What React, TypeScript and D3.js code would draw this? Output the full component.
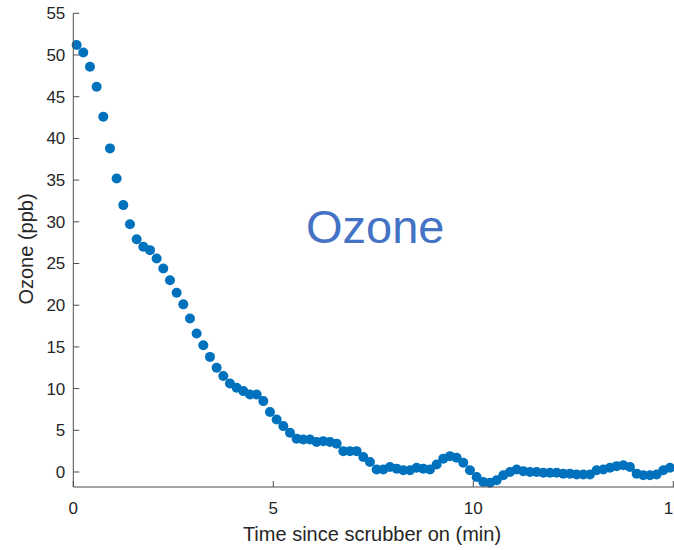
import React from "react";
import * as d3 from "d3";

// Sample times, seconds after the scrubber was switched on
const timeSec = [
  5, 15, 25, 35, 45, 55, 65, 75, 85, 95,
  105, 115, 125, 135, 145, 155, 165, 175, 185, 195,
  205, 215, 225, 235, 245, 255, 265, 275, 285, 295,
  305, 315, 325, 335, 345, 355, 365, 375, 385, 395,
  405, 415, 425, 435, 445, 455, 465, 475, 485, 495,
  505, 515, 525, 535, 545, 555, 565, 575, 585, 595,
  605, 615, 625, 635, 645, 655, 665, 675, 685, 695,
  705, 715, 725, 735, 745, 755, 765, 775, 785, 795,
  805, 815, 825, 835, 845, 855, 865, 875, 885, 895,
];

// Ozone readings (ppb)
const ozonePpb = [
  51.2, 50.3, 48.6, 46.2, 42.6, 38.8, 35.2, 32.0, 29.7, 27.9,
  27.0, 26.6, 25.6, 24.4, 23.0, 21.5, 20.1, 18.4, 16.6, 15.2,
  13.8, 12.5, 11.5, 10.6, 10.1, 9.7, 9.3, 9.3, 8.5, 7.2,
  6.3, 5.5, 4.7, 4.0, 3.9, 3.9, 3.6, 3.7, 3.6, 3.4,
  2.5, 2.5, 2.5, 1.8, 1.2, 0.3, 0.3, 0.6, 0.4, 0.2,
  0.2, 0.5, 0.4, 0.3, 0.9, 1.6, 1.9, 1.7, 1.1, 0.2,
  -0.6, -1.2, -1.3, -1.0, -0.4, 0.0, 0.3, 0.1, 0.0, 0.0,
  -0.1, -0.1, -0.1, -0.2, -0.2, -0.3, -0.3, -0.3, 0.2, 0.3,
  0.5, 0.7, 0.8, 0.6, -0.2, -0.4, -0.4, -0.3, 0.2, 0.5,
];

const xTicks = [0, 5, 10, 15];
const yTicks = [0, 5, 10, 15, 20, 25, 30, 35, 40, 45, 50, 55];

const xLabel = "Time since scrubber on (min)";
const yLabel = "Ozone (ppb)";
const annotation = "Ozone";

const W = 674;
const H = 550;
const plot = { left: 73.3, right: 673.3, top: 13.3, bottom: 487 };

const FONT = "'Liberation Sans', Arial, Helvetica, sans-serif";
const TEXT = "#262626";
const AXIS = "#4d4d4d";
const DOT = "#0072BD";

export default function App() {
  const x = d3.scaleLinear().domain([0, 15]).range([plot.left, plot.right]);
  const y = d3.scaleLinear().domain([-1.8, 55]).range([plot.bottom, plot.top]);

  const points = timeSec.map((s, i) => ({ t: s / 60, v: ozonePpb[i] }));

  return (
    <svg
      width={W}
      height={H}
      style={{ position: "absolute", left: 0, top: 0, background: "#fff" }}
    >
      <rect x={0} y={0} width={W} height={H} fill="#fff" />

      {/* data points */}
      <g>
        {points.map((p, i) => (
          <circle key={i} cx={x(p.t)} cy={y(p.v)} r={5} fill={DOT} />
        ))}
      </g>

      {/* axes */}
      <line x1={plot.left} x2={plot.left} y1={plot.top} y2={plot.bottom} stroke={AXIS} strokeWidth={1} />
      <line x1={plot.left} x2={plot.right + 2} y1={plot.bottom} y2={plot.bottom} stroke={AXIS} strokeWidth={1} />

      {yTicks.map((t) => (
        <g key={`y${t}`}>
          <line x1={plot.left} x2={plot.left + 6} y1={y(t)} y2={y(t)} stroke={AXIS} strokeWidth={1} />
          <text
            x={plot.left - 8}
            y={y(t)}
            dy="0.35em"
            textAnchor="end"
            fontFamily={FONT}
            fontSize={17}
            fill={TEXT}
          >
            {t}
          </text>
        </g>
      ))}

      {xTicks.map((t) => (
        <g key={`x${t}`}>
          <line x1={x(t)} x2={x(t)} y1={plot.bottom} y2={plot.bottom - 6} stroke={AXIS} strokeWidth={1} />
          <text
            x={x(t)}
            y={plot.bottom + 27}
            textAnchor="middle"
            fontFamily={FONT}
            fontSize={17}
            fill={TEXT}
          >
            {t}
          </text>
        </g>
      ))}

      <text
        x={372}
        y={541}
        textAnchor="middle"
        fontFamily={FONT}
        fontSize={20}
        fill={TEXT}
      >
        {xLabel}
      </text>

      <text
        transform={`translate(33, 249) rotate(-90)`}
        textAnchor="middle"
        fontFamily={FONT}
        fontSize={20}
        fill={TEXT}
      >
        {yLabel}
      </text>

      <text
        x={306}
        y={243}
        fontFamily={FONT}
        fontSize={47}
        fill="#4472C4"
      >
        {annotation}
      </text>
    </svg>
  );
}
